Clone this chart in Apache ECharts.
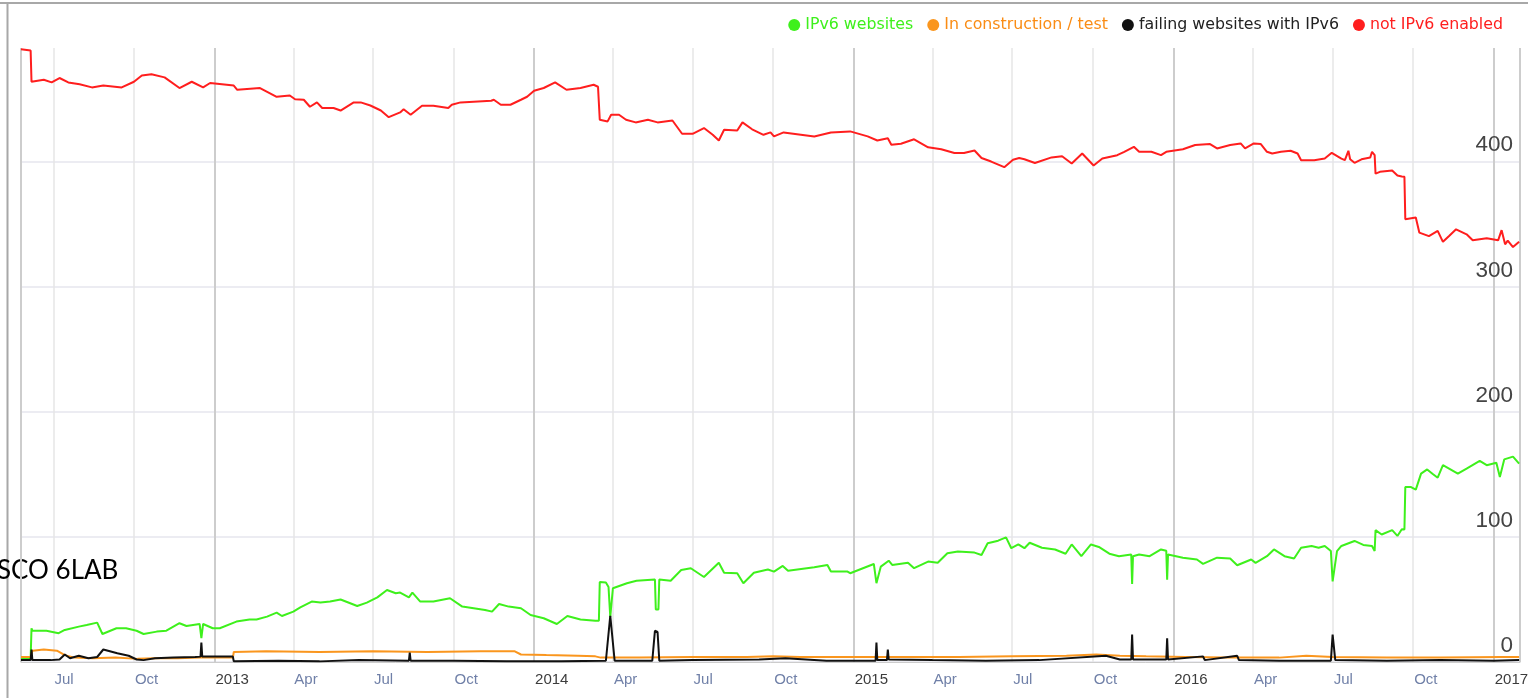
<!DOCTYPE html>
<html>
<head>
<meta charset="utf-8">
<script src="https://cdn.jsdelivr.net/npm/echarts@6/dist/echarts.min.js"></script>
<style>
  html, body { margin: 0; padding: 0; background: #fff; }
  #chart { width: 1528px; height: 698px; }
</style>
</head>
<body>
<div id="chart"></div>
<script>
// series names (legend order)
var seriesNames = ["IPv6 websites", "In construction / test", "failing websites with IPv6", "not IPv6 enabled"];
var seriesColors = ["#3ef01c", "#fa961e", "#111111", "#ff1e1e"];
var legendTextColors = ["#3ef01c", "#fa8c14", "#222222", "#ff1e1e"];
var monthNames = ["Jan", "Feb", "Mar", "Apr", "May", "Jun", "Jul", "Aug", "Sep", "Oct", "Nov", "Dec"];
var yTicks = { min: 0, max: 491, interval: 100 };
var xRange = ["2012-05-25", "2017-01-31"];

// IPv6 websites
var greenData = [
  ["2012-05-25", 3], ["2012-06-05", 3], ["2012-06-06", 27], ["2012-06-07", 25], ["2012-06-23", 25],
  ["2012-07-07", 23], ["2012-07-14", 25.6], ["2012-07-30", 28.3], ["2012-08-08", 29.6], ["2012-08-20", 31.5],
  ["2012-08-26", 22.4], ["2012-09-11", 27], ["2012-09-22", 27], ["2012-10-04", 25], ["2012-10-12", 22.4],
  ["2012-10-27", 24.3], ["2012-11-07", 25], ["2012-11-22", 31], ["2012-11-30", 28.8], ["2012-12-15", 30.4],
  ["2012-12-17", 19], ["2012-12-19", 30.4], ["2012-12-30", 27], ["2013-01-07", 27], ["2013-01-26", 32.3],
  ["2013-02-10", 34], ["2013-02-18", 34], ["2013-03-02", 36.3], ["2013-03-13", 39.5], ["2013-03-19", 36.8],
  ["2013-04-01", 40.3], ["2013-04-09", 43.7], ["2013-04-22", 48.3], ["2013-05-02", 47.5], ["2013-05-13", 48.3],
  ["2013-05-25", 50], ["2013-06-05", 47], ["2013-06-13", 44.8], ["2013-06-24", 47.5], ["2013-07-06", 51.7],
  ["2013-07-17", 57.6], ["2013-07-27", 55], ["2013-08-01", 55.5], ["2013-08-11", 51.7], ["2013-08-15", 55.5],
  ["2013-08-24", 48.3], ["2013-09-08", 48.3], ["2013-09-27", 51], ["2013-10-11", 44.3], ["2013-11-06", 41.6],
  ["2013-11-14", 40.3], ["2013-11-22", 46.4], ["2013-12-03", 44.3], ["2013-12-17", 43], ["2013-12-28", 37.6],
  ["2014-01-12", 35], ["2014-01-27", 30.4], ["2014-02-08", 36.8], ["2014-02-23", 34], ["2014-03-12", 33],
  ["2014-03-16", 33], ["2014-03-17", 64], ["2014-03-24", 63.5], ["2014-03-27", 60], ["2014-03-29", 36],
  ["2014-04-01", 59], ["2014-04-17", 63], ["2014-04-28", 65], ["2014-05-19", 66], ["2014-05-20", 42],
  ["2014-05-23", 42], ["2014-05-24", 66], ["2014-06-06", 65], ["2014-06-18", 73.6], ["2014-06-29", 75],
  ["2014-07-14", 68], ["2014-07-31", 79.4], ["2014-08-06", 71.4], ["2014-08-21", 71], ["2014-08-28", 63],
  ["2014-09-09", 71.4], ["2014-09-25", 74], ["2014-10-02", 72.3], ["2014-10-12", 76.8], ["2014-10-18", 73],
  ["2014-11-17", 75.7], ["2014-12-02", 77.6], ["2014-12-06", 72.3], ["2014-12-25", 72.3], ["2014-12-28", 71],
  ["2015-01-24", 78.4], ["2015-01-27", 63], ["2015-02-01", 76.3], ["2015-02-10", 81], ["2015-02-14", 77.6],
  ["2015-03-04", 79.4], ["2015-03-11", 75], ["2015-03-27", 80.3], ["2015-04-07", 79.4], ["2015-04-18", 87],
  ["2015-04-30", 88.3], ["2015-05-19", 87.5], ["2015-05-27", 85.6], ["2015-06-03", 95], ["2015-06-15", 97],
  ["2015-06-24", 99.7], ["2015-06-30", 91], ["2015-07-08", 94], ["2015-07-15", 91], ["2015-07-21", 95.4],
  ["2015-08-04", 91.4], ["2015-08-19", 90], ["2015-08-31", 86.6], ["2015-09-07", 94], ["2015-09-18", 84.6],
  ["2015-09-29", 94], ["2015-10-08", 92], ["2015-10-20", 86.6], ["2015-10-31", 84.6], ["2015-11-14", 86],
  ["2015-11-15", 62.3], ["2015-11-16", 84.6], ["2015-11-23", 86], ["2015-12-05", 84.6], ["2015-12-18", 90],
  ["2015-12-24", 89], ["2015-12-25", 65.8], ["2015-12-26", 86], ["2016-01-12", 83.4], ["2016-01-28", 82],
  ["2016-02-04", 78.5], ["2016-02-20", 83.4], ["2016-03-06", 82.8], ["2016-03-14", 77.4], ["2016-03-30", 82],
  ["2016-04-04", 79.3], ["2016-04-17", 84.6], ["2016-04-25", 90], ["2016-05-07", 84.6], ["2016-05-18", 82.8],
  ["2016-05-26", 91.4], ["2016-06-07", 92.8], ["2016-06-15", 91.4], ["2016-06-22", 92.8], ["2016-06-29", 88.7],
  ["2016-07-01", 64.5], ["2016-07-06", 88.7], ["2016-07-11", 92.8], ["2016-07-26", 96.8], ["2016-08-05", 93.6],
  ["2016-08-15", 92.8], ["2016-08-18", 88.7], ["2016-08-19", 105.4], ["2016-08-26", 102], ["2016-09-07", 105.4],
  ["2016-09-13", 100.8], ["2016-09-18", 106.2], ["2016-09-21", 106], ["2016-09-22", 140], ["2016-09-28", 140],
  ["2016-10-04", 137.8], ["2016-10-10", 150.6], ["2016-10-17", 154], ["2016-10-23", 150.6], ["2016-10-29", 147.4],
  ["2016-11-04", 157.4], ["2016-11-11", 154.7], ["2016-11-21", 150.6], ["2016-12-01", 154.7], ["2016-12-16", 160.9],
  ["2016-12-24", 157.4], ["2017-01-04", 159.3], ["2017-01-08", 148], ["2017-01-13", 162], ["2017-01-23", 164.2],
  ["2017-01-30", 158.7]
];

// In construction / test
var orangeData = [
  ["2012-05-25", 4], ["2012-06-05", 4], ["2012-06-07", 9], ["2012-06-20", 10], ["2012-07-05", 9],
  ["2012-07-14", 5.5], ["2012-07-25", 3.5], ["2012-08-15", 3], ["2012-09-10", 3.5], ["2012-10-05", 2.5],
  ["2012-10-25", 3], ["2012-11-20", 3], ["2012-12-15", 3.5], ["2013-01-22", 3.5], ["2013-01-23", 8],
  ["2013-03-01", 8.5], ["2013-05-01", 8], ["2013-07-01", 8.5], ["2013-09-01", 8], ["2013-11-01", 8.5],
  ["2013-12-10", 8.5], ["2013-12-17", 6], ["2014-01-15", 5.5], ["2014-02-20", 5], ["2014-03-12", 4.5],
  ["2014-03-18", 3.5], ["2014-05-01", 3.5], ["2014-07-01", 4], ["2014-09-01", 4], ["2014-10-01", 4.5],
  ["2014-11-01", 4], ["2015-01-01", 4], ["2015-03-01", 4], ["2015-05-01", 4], ["2015-07-01", 4.5],
  ["2015-09-01", 5], ["2015-10-05", 6], ["2015-11-01", 5], ["2015-12-01", 4.5], ["2016-01-15", 4],
  ["2016-03-01", 3.5], ["2016-05-01", 3.5], ["2016-06-01", 5], ["2016-07-01", 4], ["2016-09-01", 3.5],
  ["2016-11-01", 3.5], ["2017-01-10", 4], ["2017-01-30", 4]
];

// failing websites with IPv6
var blackData = [
  ["2012-05-25", 1.5], ["2012-06-05", 1.5], ["2012-06-06", 10], ["2012-06-07", 1.5], ["2012-06-28", 1.5],
  ["2012-07-08", 2], ["2012-07-14", 6], ["2012-07-20", 3], ["2012-07-30", 5], ["2012-08-10", 3],
  ["2012-08-20", 4], ["2012-08-27", 10], ["2012-09-12", 7], ["2012-09-25", 5], ["2012-10-04", 2],
  ["2012-10-12", 1.5], ["2012-10-25", 3], ["2012-11-15", 3.5], ["2012-12-10", 4], ["2012-12-16", 4.3],
  ["2012-12-17", 15.5], ["2012-12-18", 4.3], ["2013-01-22", 4.3], ["2013-01-23", 0.5], ["2013-03-15", 1],
  ["2013-05-01", 0.5], ["2013-06-15", 1.5], ["2013-08-11", 1], ["2013-08-12", 7.5], ["2013-08-13", 1],
  ["2013-10-01", 1], ["2013-12-01", 0.5], ["2014-02-01", 0.5], ["2014-03-24", 1], ["2014-03-29", 37],
  ["2014-04-03", 1], ["2014-05-16", 1], ["2014-05-19", 25], ["2014-05-22", 24], ["2014-05-24", 1],
  ["2014-07-01", 1.5], ["2014-09-15", 2], ["2014-10-15", 3], ["2014-12-01", 1], ["2015-01-26", 1],
  ["2015-01-27", 15.5], ["2015-01-28", 1.5], ["2015-02-08", 1.5], ["2015-02-09", 10], ["2015-02-10", 2],
  ["2015-04-01", 1.5], ["2015-06-01", 1], ["2015-08-01", 1.5], ["2015-10-16", 5], ["2015-11-01", 2],
  ["2015-11-14", 2], ["2015-11-15", 22], ["2015-11-16", 2], ["2015-12-24", 2], ["2015-12-25", 19],
  ["2015-12-26", 2], ["2016-02-04", 4.5], ["2016-02-06", 1.5], ["2016-03-14", 5], ["2016-03-16", 1.5],
  ["2016-05-01", 1], ["2016-06-29", 1], ["2016-07-01", 22], ["2016-07-04", 1.5], ["2016-09-01", 1],
  ["2016-11-01", 1.5], ["2017-01-01", 1], ["2017-01-30", 1.5]
];

// not IPv6 enabled
var redData = [
  ["2012-05-25", 490], ["2012-06-05", 489], ["2012-06-06", 464], ["2012-06-20", 465.6], ["2012-06-29", 463.5],
  ["2012-07-08", 467], ["2012-07-18", 463.5], ["2012-07-31", 462], ["2012-08-14", 459.5], ["2012-08-27", 461],
  ["2012-09-17", 459.5], ["2012-10-01", 464], ["2012-10-10", 469], ["2012-10-21", 470], ["2012-11-05", 467.5],
  ["2012-11-22", 459], ["2012-12-06", 464], ["2012-12-19", 459.5], ["2012-12-27", 463], ["2013-01-23", 461],
  ["2013-01-27", 457.6], ["2013-02-22", 459], ["2013-03-13", 452], ["2013-03-28", 453], ["2013-04-03", 450],
  ["2013-04-13", 449.6], ["2013-04-20", 444], ["2013-04-28", 447.5], ["2013-05-04", 443], ["2013-05-17", 443],
  ["2013-05-25", 441], ["2013-06-09", 447.5], ["2013-06-17", 447.5], ["2013-06-28", 445], ["2013-07-10", 441],
  ["2013-07-19", 435.7], ["2013-08-01", 439.5], ["2013-08-05", 442], ["2013-08-13", 437.6], ["2013-08-26", 444.8],
  ["2013-09-08", 444.8], ["2013-09-25", 443], ["2013-09-29", 445.6], ["2013-10-09", 447.5], ["2013-11-13", 448.8],
  ["2013-11-16", 449.6], ["2013-11-24", 445.6], ["2013-12-05", 445.6], ["2013-12-17", 449.6], ["2013-12-24", 452],
  ["2014-01-01", 456.8], ["2014-01-12", 459], ["2014-01-25", 463.5], ["2014-02-07", 457.6], ["2014-02-23", 459],
  ["2014-03-10", 461.6], ["2014-03-15", 460], ["2014-03-17", 433.6], ["2014-03-26", 432.3], ["2014-03-30", 437.6],
  ["2014-04-08", 437.6], ["2014-04-16", 433.6], ["2014-04-27", 431.5], ["2014-05-11", 433.6], ["2014-05-22", 431.5],
  ["2014-06-08", 433], ["2014-06-19", 422.4], ["2014-07-01", 422.4], ["2014-07-14", 427], ["2014-07-24", 421.6],
  ["2014-07-31", 417], ["2014-08-06", 425.6], ["2014-08-21", 425], ["2014-08-27", 431.5], ["2014-09-07", 426],
  ["2014-09-20", 421.6], ["2014-09-28", 423.5], ["2014-10-02", 420.3], ["2014-10-13", 423.5], ["2014-11-17", 420.3],
  ["2014-12-06", 423.5], ["2014-12-28", 424.3], ["2015-01-17", 420.3], ["2015-01-28", 417], ["2015-02-09", 418.8],
  ["2015-02-13", 413.6], ["2015-02-24", 414.4], ["2015-03-11", 418], ["2015-03-27", 411.6], ["2015-04-11", 410],
  ["2015-04-26", 407], ["2015-05-07", 407], ["2015-05-19", 409], ["2015-05-27", 403], ["2015-06-07", 400.2],
  ["2015-06-22", 395.7], ["2015-07-02", 401.6], ["2015-07-09", 403], ["2015-07-15", 402], ["2015-07-27", 399],
  ["2015-08-15", 403.5], ["2015-08-27", 404.5], ["2015-09-07", 398.6], ["2015-09-19", 406.6], ["2015-10-02", 397],
  ["2015-10-12", 402.6], ["2015-10-29", 405.3], ["2015-11-06", 408], ["2015-11-17", 412], ["2015-11-23", 408],
  ["2015-12-07", 408], ["2015-12-18", 405.3], ["2015-12-24", 408], ["2016-01-12", 410], ["2016-01-26", 413.4],
  ["2016-02-12", 414.2], ["2016-02-20", 410.7], ["2016-03-06", 413.4], ["2016-03-18", 414.7], ["2016-03-23", 410.7],
  ["2016-04-02", 414.7], ["2016-04-10", 414.2], ["2016-04-17", 408], ["2016-04-23", 406.6], ["2016-05-03", 408],
  ["2016-05-14", 408.8], ["2016-05-22", 406.6], ["2016-05-26", 401.3], ["2016-06-10", 401.3], ["2016-06-22", 402.6],
  ["2016-06-30", 407.2], ["2016-07-11", 402.6], ["2016-07-15", 401.3], ["2016-07-19", 408.8], ["2016-07-21", 402],
  ["2016-07-26", 399.2], ["2016-08-03", 402], ["2016-08-13", 403.5], ["2016-08-15", 408], ["2016-08-18", 405.3],
  ["2016-08-19", 390.5], ["2016-08-24", 392], ["2016-09-07", 393], ["2016-09-13", 389], ["2016-09-18", 388.3],
  ["2016-09-21", 388], ["2016-09-22", 354], ["2016-10-04", 355.5], ["2016-10-08", 343.4], ["2016-10-19", 340.6],
  ["2016-10-29", 344.8], ["2016-11-04", 336], ["2016-11-11", 340.6], ["2016-11-19", 346], ["2016-12-01", 342],
  ["2016-12-08", 337.2], ["2016-12-24", 338.8], ["2017-01-06", 337.2], ["2017-01-10", 345.3], ["2017-01-14", 334],
  ["2017-01-17", 337], ["2017-01-23", 331.8], ["2017-01-30", 336]
];

var allData = [greenData, orangeData, blackData, redData];

(function () {
  var myChart = echarts.init(document.getElementById("chart"));
  var DAY = 86400000;

  var option = {
    animation: false,
    backgroundColor: "#ffffff",
    color: seriesColors,
    grid: {
      left: 21,
      right: 8,
      top: 48,
      bottom: 36,
      containLabel: false,
      outerBoundsMode: "none",
    },
    legend: {
      right: 20,
      top: 12,
      icon: "circle",
      itemWidth: 12,
      itemHeight: 12,
      itemGap: 14,
      textStyle: { fontFamily: "DejaVu Sans", fontSize: 15.8 },
      data: seriesNames.map(function (n, i) {
        return { name: n, textStyle: { color: legendTextColors[i] } };
      }),
    },
    xAxis: [
      {
        type: "time",
        min: xRange[0],
        max: xRange[1],
        splitNumber: 18,
        minInterval: 95 * DAY,
        maxInterval: 95 * DAY,
        axisLine: { show: true, lineStyle: { color: "#cccccc", width: 1 } },
        axisTick: { show: false },
        splitLine: { show: true, lineStyle: { color: "#e6e6e6", width: 1.5 } },
        axisLabel: {
          align: "left",
          margin: 10,
          hideOverlap: false,
          showMinLabel: false,
          formatter: function (value) {
            var d = new Date(value);
            var m = d.getMonth();
            if (m === 0) return "{y|" + d.getFullYear() + "}";
            return "{m|" + monthNames[m] + "}";
          },
          rich: {
            y: { fontFamily: "Liberation Sans", fontSize: 15, color: "#3c3c3c", padding: [0, 0, 0, 1] },
            m: { fontFamily: "Liberation Sans", fontSize: 15, color: "#7080a8", padding: [0, 0, 0, 1] },
          },
        },
      },
      {
        // darker year lines
        type: "time",
        min: xRange[0],
        max: xRange[1],
        position: "bottom",
        minInterval: 365 * DAY,
        maxInterval: 366 * DAY,
        axisLine: { show: false },
        axisTick: { show: false },
        axisLabel: { show: false },
        splitLine: { show: true, lineStyle: { color: "#cdcdcd", width: 2 } },
      },
    ],
    yAxis: {
      type: "value",
      position: "right",
      min: yTicks.min,
      max: yTicks.max,
      interval: yTicks.interval,
      axisLine: { show: false },
      axisTick: { show: false },
      splitLine: { show: true, showMaxLine: false, lineStyle: { color: "#e6e6ee", width: 1.5 } },
      axisLabel: {
        inside: true,
        showMaxLabel: false,
        margin: 7,
        fontFamily: "Liberation Sans",
        fontSize: 22.5,
        color: "#444444",
        verticalAlign: "bottom",
        padding: [0, 0, 5, 0],
      },
    },
    graphic: [
      { type: "line", shape: { x1: 0, y1: 3, x2: 1528, y2: 3 }, style: { stroke: "#a8a8a8", lineWidth: 2 } },
      { type: "line", shape: { x1: 7.5, y1: 3, x2: 7.5, y2: 698 }, style: { stroke: "#a8a8a8", lineWidth: 2 } },
      {
        type: "text",
        x: -3,
        y: 571,
        style: { text: "SCO 6LAB", fontFamily: "Lato", fontSize: 26, fill: "#000000", verticalAlign: "middle" },
      },
    ],
    series: seriesNames.map(function (n, i) {
      return {
        name: n,
        type: "line",
        xAxisIndex: 0,
        symbol: "none",
        lineStyle: { width: 2, color: seriesColors[i] },
        data: allData[i],
      };
    }),
  };

  myChart.setOption(option);
  window.addEventListener("resize", function () {
    myChart.resize();
  });
})();
</script>
</body>
</html>
